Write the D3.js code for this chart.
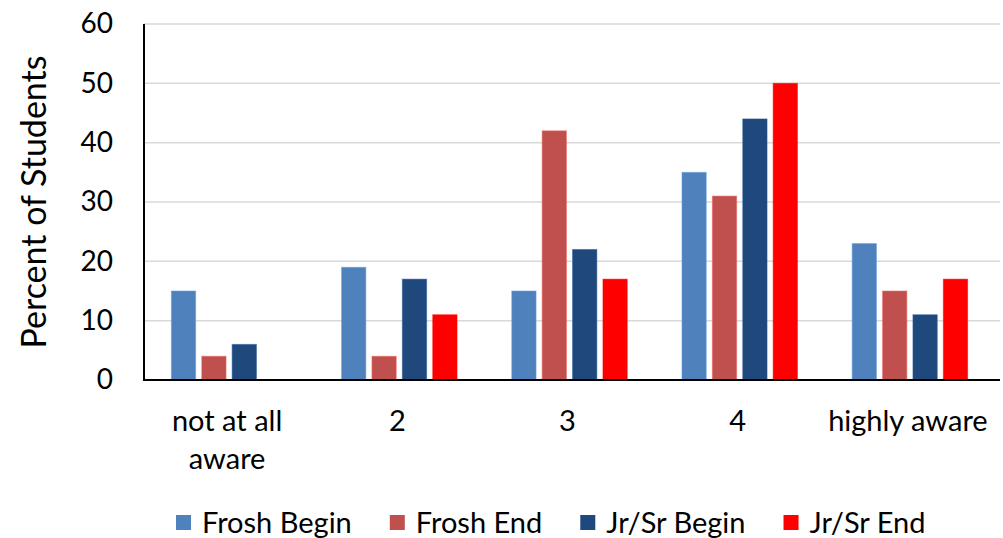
<!DOCTYPE html>
<html>
<head>
<meta charset="utf-8">
<script src="https://cdn.jsdelivr.net/npm/d3@7"></script>
<style>
  html, body { margin: 0; padding: 0; background: #fff; }
  svg { display: block; }
  text { font-family: Lato, "Open Sans", sans-serif; fill: #000; }
</style>
</head>
<body>
<svg id="chart" width="1003" height="538"></svg>
<script>
// Awareness rating categories
const categories = ["not at all aware", "2", "3", "4", "highly aware"];
const categoryLines = [["not at all", "aware"], ["2"], ["3"], ["4"], ["highly aware"]];

// Series (percent of students)
const seriesNames = ["Frosh Begin", "Frosh End", "Jr/Sr Begin", "Jr/Sr End"];
const froshBegin = [15, 19, 15, 35, 23];
const froshEnd   = [4, 4, 42, 31, 15];
const jrsrBegin  = [6, 17, 22, 44, 11];
const jrsrEnd    = [0, 11, 17, 50, 17];
const seriesColors = ["#4F81BD", "#C0504D", "#1F497D", "#FF0000"];

const yTicks = [0, 10, 20, 30, 40, 50, 60];

const seriesValues = [froshBegin, froshEnd, jrsrBegin, jrsrEnd];

const svg = d3.select("#chart");
const plotLeft = 144, plotRight = 995, plotTop = 24, plotBottom = 380;

const x = d3.scaleBand().domain(categories).range([plotLeft, plotRight]).paddingInner(0).paddingOuter(0);
const xInner = d3.scaleBand().domain(seriesNames).range([0, x.bandwidth()]).paddingInner(0.2).paddingOuter(0.9);
const y = d3.scaleLinear().domain([0, 60]).range([plotBottom, plotTop]);

// Horizontal gridlines
svg.append("g")
  .selectAll("line")
  .data(yTicks.filter(d => d > 0))
  .join("line")
  .attr("x1", plotLeft).attr("x2", 1000)
  .attr("y1", d => y(d)).attr("y2", d => y(d))
  .attr("stroke", "#d9d9d9").attr("stroke-width", 1.5);

// Y axis tick labels
const yAxis = d3.axisLeft(y).tickValues(yTicks).tickSize(0).tickPadding(31);
const gy = svg.append("g").attr("transform", `translate(${plotLeft},0)`).call(yAxis);
gy.select(".domain").remove();
gy.selectAll("text").attr("font-size", 28).style("font-family", "Lato, 'Open Sans', sans-serif").attr("fill", "#000");

// Bars
const rows = [];
categories.forEach((c, i) => {
  seriesNames.forEach((s, j) => {
    rows.push({ cat: c, series: s, value: seriesValues[j][i], color: seriesColors[j] });
  });
});

svg.append("g")
  .selectAll("rect")
  .data(rows.filter(d => d.value > 0))
  .join("rect")
  .attr("x", d => x(d.cat) + xInner(d.series))
  .attr("width", xInner.bandwidth())
  .attr("y", d => y(d.value))
  .attr("height", d => y(0) - y(d.value))
  .attr("fill", d => d.color)
  .attr("stroke", d => d3.color(d.color).brighter(0.6))
  .attr("stroke-opacity", 0.5)
  .attr("stroke-width", 1);

// Axis lines
svg.append("line").attr("x1", plotLeft).attr("x2", plotLeft).attr("y1", plotTop).attr("y2", plotBottom)
  .attr("stroke", "#000").attr("stroke-width", 2);
svg.append("line").attr("x1", plotLeft - 1).attr("x2", 1000).attr("y1", plotBottom).attr("y2", plotBottom)
  .attr("stroke", "#000").attr("stroke-width", 2);

// Category labels
const xl = svg.append("g");
categories.forEach((c, i) => {
  const cx = x(c) + x.bandwidth() / 2 - 2;
  const t = xl.append("text")
    .attr("x", cx)
    .attr("y", 431)
    .attr("text-anchor", "middle")
    .attr("font-size", 29);
  categoryLines[i].forEach((line, k) => {
    t.append("tspan").attr("x", cx).attr("dy", k === 0 ? 0 : 38).text(line);
  });
});

// Y axis title
svg.append("text")
  .attr("transform", `translate(46, ${(plotTop + plotBottom) / 2}) rotate(-90)`)
  .attr("text-anchor", "middle")
  .attr("font-size", 34)
  .text("Percent of Students");

// Legend
const legend = svg.append("g");
let lx = 176;
seriesNames.forEach((s, j) => {
  legend.append("rect")
    .attr("x", lx).attr("y", 515).attr("width", 15).attr("height", 15)
    .attr("fill", seriesColors[j]);
  const t = legend.append("text")
    .attr("x", lx + 26).attr("y", 533)
    .attr("font-size", 29)
    .text(s);
  lx += 26 + t.node().getComputedTextLength() + 38;
});
</script>
</body>
</html>
